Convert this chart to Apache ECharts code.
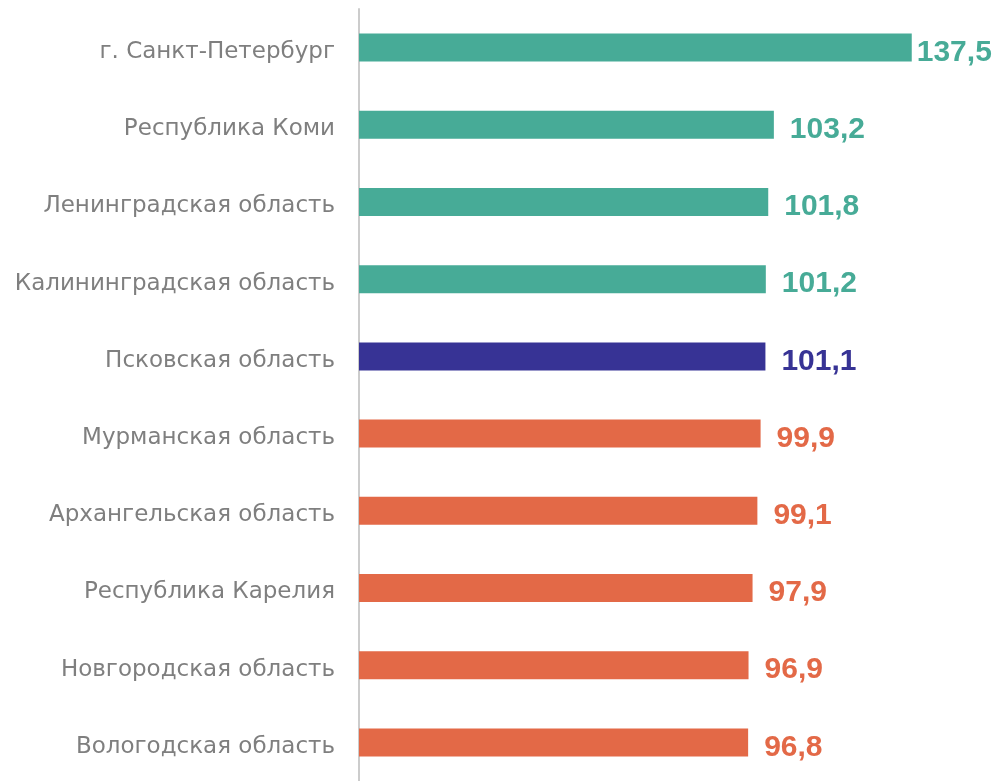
<!DOCTYPE html>
<html>
<head>
<meta charset="utf-8">
<script src="https://cdn.jsdelivr.net/npm/echarts@6/dist/echarts.min.js"></script>
<style>
  html, body { margin: 0; padding: 0; background: #fff; }
  #chart_box { width: 1000px; height: 781px; }
</style>
</head>
<body>
<div id="chart_box"></div>
<script>
// данные
var regions = ['г. Санкт-Петербург', 'Республика Коми', 'Ленинградская область', 'Калининградская область',
    'Псковская область', 'Мурманская область', 'Архангельская область', 'Республика Карелия',
    'Новгородская область', 'Вологодская область'];
var values = [137.5, 103.2, 101.8, 101.2, 101.1, 99.9, 99.1, 97.9, 96.9, 96.8];
var colorIndex = [0, 0, 0, 0, 1, 2, 2, 2, 2, 2];   // 0 - выше, 1 - Псков, 2 - ниже
var palette = ['#47AB97', '#373395', '#E36947'];

var myChart1 = echarts.init(document.getElementById('chart_box'));

var barData = values.map(function (v, i) {
    var item = {
        value: v,
        itemStyle: { color: palette[colorIndex[i]] },
        label: { color: palette[colorIndex[i]] }
    };
    if (i === 0) item.label.distance = 5;   // первая подпись прижата к краю
    return item;
});

var option = {
    animation: false,
    grid: { left: 359, right: 38, top: 9, height: 780 },
    xAxis: {
        type: 'value',
        min: 0,
        max: 150,
        show: false
    },
    yAxis: {
        type: 'category',
        inverse: true,
        data: regions,
        axisLine: { show: true, lineStyle: { color: '#cccccc', width: 2 } },
        axisTick: { show: false },
        axisLabel: {
            formatter: '{a|{value}}',
            margin: 24,
            rich: {
                a: {
                    color: '#7f7f7f',
                    fontFamily: 'DejaVu Sans',
                    fontSize: 23,
                    padding: [9, 0, 0, 0]
                }
            }
        }
    },
    series: [{
        type: 'bar',
        barWidth: 28,
        data: barData,
        label: {
            show: true,
            position: 'right',
            distance: 16,
            fontFamily: 'Liberation Sans, Arial, sans-serif',
            fontWeight: 'bold',
            fontSize: 30,
            offset: [0, 5],
            formatter: function (p) { return String(p.value).replace('.', ','); }
        }
    }]
};
myChart1.setOption(option);
</script>
</body>
</html>
